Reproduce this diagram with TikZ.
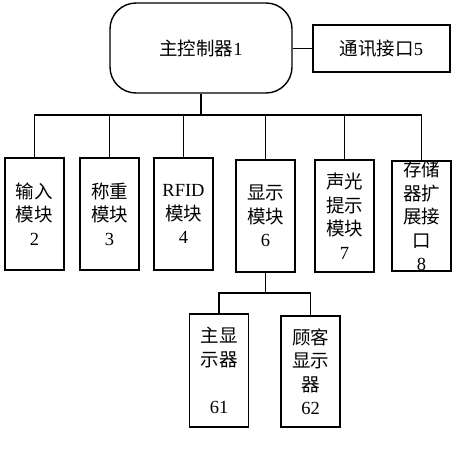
\documentclass[tikz,border=0pt]{standalone}
\usepackage{fontspec}
\setmainfont{Liberation Serif}
\newfontfamily\cjk{Noto Sans CJK SC}
\newcommand{\zh}[1]{{\cjk #1}}
\begin{document}
\begin{tikzpicture}[x=1pt, y=-1pt,
    box/.style={draw, line width=1.4pt, minimum width=59pt, minimum height=112pt,
      inner sep=0pt, align=center, font=\fontsize{18.5}{23.5}\selectfont},
    link/.style={line width=1.2pt}]

  \useasboundingbox (0,0) rectangle (470,450);

  % ============================================================
  % BOVEN: hoofdregelaar en interface
  % ============================================================

  \node[box, rounded corners=26pt, minimum width=182pt, minimum height=90pt]
    (main) at (201,48) {\zh{主控制器}1};
  \node[box, minimum width=137pt, minimum height=47pt]
    (comm) at (381.5,48.5) {\zh{通讯接口}5};
  \draw[link] (main.east |- comm) -- (comm.west);

  % ============================================================
  % MIDDEN: modules
  % ============================================================

  \node[box] (input) at (34.5,214) {\zh{输入}\\\zh{模块}\\2};
  \node[box] (weigh) at (109.5,214) {\zh{称重}\\\zh{模块}\\3};
  \node[box] (rfid)  at (183.5,214) {RFID\\\zh{模块}\\4};
  \node[box] (disp)  at (265.5,216) {\zh{显示}\\\zh{模块}\\6};
  \node[box] (sound) at (344.5,216) {\zh{声光}\\\zh{提示}\\\zh{模块}\\7};
  \node[box, minimum height=110pt]
    (store) at (421.5,216) {\zh{存储}\\\zh{器扩}\\\zh{展接}\\\zh{口}\\8};

  % Bus
  \coordinate (bus) at (201,115);
  \draw[link] (main.south) -- (bus);
  \draw[link] (input.north) |- (bus) -| (store.north);
  \foreach \m in {weigh, rfid, disp, sound}
    \draw[link] (\m.north) -- (\m.north |- bus);

  % ============================================================
  % ONDER: displays
  % ============================================================

  \node[box, minimum height=113pt]
    (maindisp) at (219,370.5) {\zh{主显}\\\zh{示器}\\[23.5pt]61};
  \node[box, minimum height=111pt]
    (custdisp) at (310.5,371.5) {\zh{顾客}\\\zh{显示}\\\zh{器}\\62};

  \coordinate (dbus) at (265.5,293);
  \draw[link] (disp.south) -- (dbus);
  \draw[link] (maindisp.north) |- (dbus) -| (custdisp.north);

\end{tikzpicture}
\end{document}
